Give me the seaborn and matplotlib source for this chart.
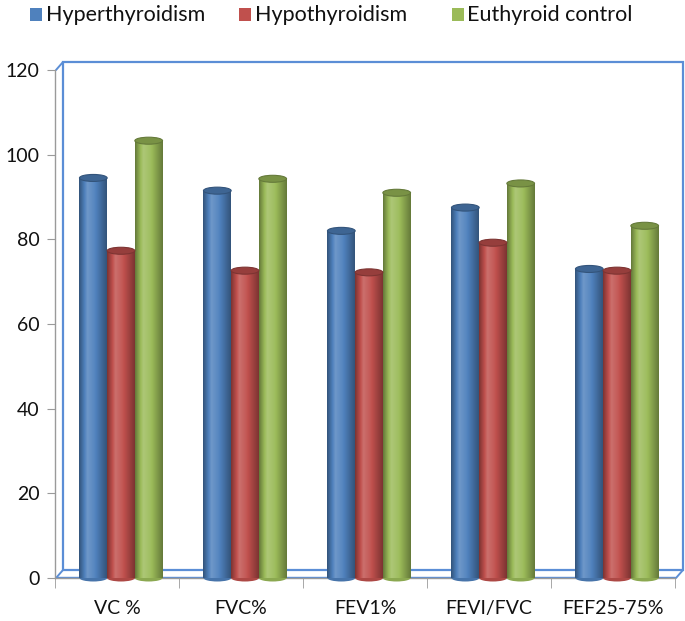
import numpy as np
import pandas as pd
import matplotlib
matplotlib.use("Agg")
import matplotlib.pyplot as plt
import matplotlib.colors as mcolors
from matplotlib.patches import Ellipse, Rectangle
from matplotlib.lines import Line2D
import seaborn as sns

categories = ["VC %", "FVC%", "FEV1%", "FEVI/FVC", "FEF25-75%"]
groups = ["Hyperthyroidism", "Hypothyroidism", "Euthyroid control"]
hyper = [94.5, 91.5, 82.0, 87.5, 73.0]
hypo = [77.3, 72.6, 72.2, 79.2, 72.6]
euthyroid = [103.3, 94.3, 91.0, 93.2, 83.2]
colors = ["#4F81BD", "#C0504D", "#9BBB59"]
yticks = [0, 20, 40, 60, 80, 100, 120]

df = pd.DataFrame({
    "metric": categories * 3,
    "value": hyper + hypo + euthyroid,
    "group": [groups[0]] * 5 + [groups[1]] * 5 + [groups[2]] * 5,
})

sns.set_style("white")
plt.rcParams["font.family"] = ["Lato", "DejaVu Sans"]

W, H = 685, 621
fig = plt.figure(figsize=(W / 100, H / 100), dpi=100)
x0, x1, yb, yt = 55, 675, 578, 70
ax = fig.add_axes([x0 / W, (H - yb) / H, (x1 - x0) / W, (yb - yt) / H])

sns.barplot(data=df, x="metric", y="value", hue="group", hue_order=groups,
            order=categories, palette=colors, width=0.67, ax=ax,
            legend=False, saturation=1, edgecolor="none", linewidth=0)

ax.set_ylim(0, 120)
ax.set_xlim(-0.5, len(categories) - 0.5)
ax.set_yticks(yticks)
ax.set_xlabel("")
ax.set_ylabel("")

ppu = (yb - yt) / 120.0
cap_h = 7.0 / ppu
shift = 4.0 / ((x1 - x0) / len(categories))


def shade(c, f):
    r, g, b = mcolors.to_rgb(c)
    if f >= 0:
        return (r + (1 - r) * f, g + (1 - g) * f, b + (1 - b) * f)
    return (r * (1 + f), g * (1 + f), b * (1 + f))


xs = np.linspace(0, 1, 64)
prof = np.interp(xs, [0, 0.3, 0.55, 1.0], [-0.35, 0.18, 0.05, -0.35])

for cont, col in zip(ax.containers, colors):
    grad = np.array([[shade(col, f) for f in prof]])
    for bar in cont:
        bar.set_x(bar.get_x() + shift)
        bx, by = bar.get_x(), bar.get_y()
        bw, bh = bar.get_width(), bar.get_height()
        im = ax.imshow(grad, extent=[bx, bx + bw, by, by + bh], aspect="auto",
                       zorder=3, interpolation="bilinear")
        im.set_clip_path(bar)
        ax.add_patch(Ellipse((bx + bw / 2, 0), bw, cap_h, facecolor=shade(col, -0.1),
                             edgecolor="none", zorder=2.9, clip_on=False))
        ax.add_patch(Ellipse((bx + bw / 2, by + bh), bw, cap_h, facecolor=shade(col, -0.22),
                             edgecolor=shade(col, -0.35), linewidth=0.8, zorder=4))
ax.set_xlim(-0.5, len(categories) - 0.5)
ax.set_ylim(0, 120)

for s in ["top", "right"]:
    ax.spines[s].set_visible(False)
for s in ["left", "bottom"]:
    ax.spines[s].set_color("#9a9a9a")
    ax.spines[s].set_linewidth(1.0)
ax.tick_params(axis="y", which="major", left=True, length=6, color="#9a9a9a",
               labelsize=14, pad=5, labelcolor="#111111")
ax.set_xticks(range(len(categories)))
ax.set_xticklabels(categories)
ax.tick_params(axis="x", which="major", bottom=False, labelsize=14, pad=12,
               labelcolor="#111111")
ax.set_xticks(np.arange(-0.5, len(categories), 1.0), minor=True)
ax.tick_params(axis="x", which="minor", bottom=True, length=7, color="#9a9a9a")

dx, dy = 8, 8
blue = "#5B8ED6"
tr = fig.transFigure


def P(px, py):
    return (px / W, (H - py) / H)


fig.add_artist(Rectangle(P(x0 + dx, yb - dy), (x1 - x0) / W, (yb - yt) / H,
                         transform=tr, fill=False, edgecolor=blue, linewidth=1.6,
                         zorder=0.5))
for (ax_, ay_) in [(x0, yb), (x0, yt), (x1, yb)]:
    a = P(ax_ + 1, ay_)
    b = P(ax_ + dx, ay_ - dy)
    fig.add_artist(Line2D([a[0], b[0]], [a[1], b[1]], transform=tr, color=blue,
                          linewidth=1.4))
a = P(x0 + 2, yb)
b = P(x1, yb)
fig.add_artist(Line2D([a[0], b[0]], [a[1] + 1.5 / H, b[1] + 1.5 / H], transform=tr,
                      color=blue, linewidth=1.0, zorder=0.4))
ax.set_zorder(2)
ax.patch.set_alpha(0)

# legend (manual placement)
sq_x = [30, 239, 452]
txt_x = [46, 255, 467]
for sx, tx, c, g in zip(sq_x, txt_x, colors, groups):
    fig.add_artist(Rectangle(P(sx, 21), 12 / W, 13 / H, transform=tr,
                             facecolor=c, edgecolor="none"))
    fig.text(tx / W, 1 - 15 / H, g, fontsize=15.5, va="center", ha="left",
             color="#111111")

fig.savefig("out.png", dpi=100)
